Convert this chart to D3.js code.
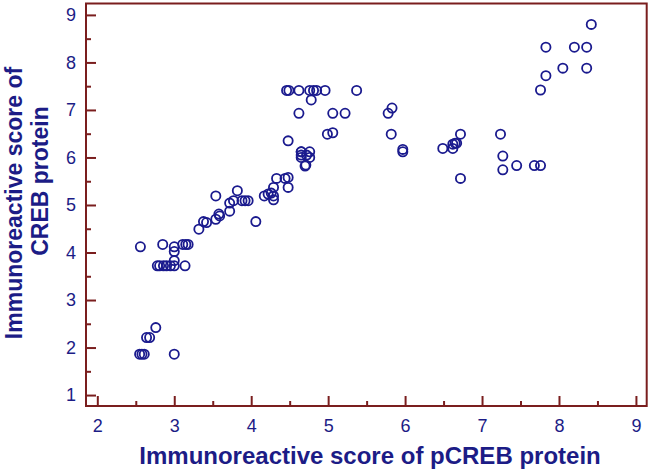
<!DOCTYPE html>
<html lang="en">
<head>
  <meta charset="utf-8" />
  <title>pCREB vs CREB</title>
  <script src="https://d3js.org/d3.v7.min.js"></script>
  <style>
    body { margin: 0; background: #fff; }
    svg text { font-family: "Liberation Sans", Arial, sans-serif; }
  </style>
</head>
<body>
  <div id="graph"></div>
  <script>
    // immunoreactive scores
    const pcreb = [
      2.56, 2.85, 3.0, 3.0, 3.11, 3.15, 3.18, 3.0,
      2.78, 2.81, 2.86, 2.9, 2.95, 3.0, 3.14,
      2.76, 2.64, 2.68, 2.55, 2.58, 2.61, 3.0,
      3.32, 3.38, 3.42, 3.54, 3.58, 3.59, 3.54,
      3.72, 3.72, 3.77, 3.82, 3.88, 3.92, 3.96, 4.06,
      4.17, 4.22, 4.26, 4.29, 4.29, 4.29,
      4.33, 4.44, 4.48, 4.48, 4.65, 4.72, 4.65, 4.71,
      4.46, 4.49, 4.62, 4.76, 4.81, 4.85, 4.96, 4.78, 5.37,
      4.62, 5.06, 5.22, 4.99, 5.06, 4.48,
      4.65, 4.76, 4.65, 4.76, 4.7,
      5.78, 5.83, 5.82, 5.97, 5.97,
      6.49, 6.62, 6.65, 6.67, 6.72, 6.62, 6.72,
      7.24, 7.27, 7.27, 7.45, 7.68, 7.76,
      8.42, 7.83, 8.2, 8.36, 8.05, 8.36, 7.83, 7.76
    ];
    const creb = [
      4.12, 4.17, 4.12, 4.02, 4.17, 4.17, 4.17, 3.83,
      3.72, 3.72, 3.72, 3.72, 3.72, 3.72, 3.72,
      2.42, 2.21, 2.21, 1.86, 1.86, 1.86, 1.86,
      4.49, 4.65, 4.63, 4.7, 4.81, 4.77, 5.19,
      4.87, 5.04, 5.09, 5.3, 5.09, 5.09, 5.09, 4.65,
      5.19, 5.23, 5.25, 5.37, 5.11, 5.19,
      5.56, 5.56, 5.58, 5.37, 6.05, 6.05, 6.12, 5.84,
      7.41, 7.41, 7.41, 7.41, 7.41, 7.41, 7.41, 7.21, 7.41,
      6.93, 6.93, 6.93, 6.49, 6.52, 6.35,
      6.12, 6.12, 6.0, 6.0, 5.82,
      6.93, 7.04, 6.49, 6.17, 6.12,
      6.19, 6.19, 6.3, 6.3, 6.49, 6.28, 5.56,
      6.49, 6.03, 5.74, 5.83, 5.83, 5.83,
      8.8, 8.32, 8.32, 8.32, 7.88, 7.88, 7.72, 7.42
    ];
    const xTicks = [2, 3, 4, 5, 6, 7, 8, 9];
    const yTicks = [1, 2, 3, 4, 5, 6, 7, 8, 9];
    const xMinor = [2.5, 3.5, 4.5, 5.5, 6.5, 7.5, 8.5];
    const yMinor = [1.5, 2.5, 3.5, 4.5, 5.5, 6.5, 7.5, 8.5];
    const xTitle = "Immunoreactive score of pCREB protein";
    const yTitle = ["Immunoreactive score of", "CREB protein"];

    const frameColor = "#7a1e1e";
    const textColor = "#1c1c86";

    const W = 652, H = 470;
    const margin = { top: 3.5, right: 5.3, bottom: 64, left: 86 };
    const width = W - margin.left - margin.right;
    const height = H - margin.top - margin.bottom;

    const x = d3.scaleLinear().domain([1.853, 9.14]).range([0, width]);
    const y = d3.scaleLinear().domain([0.77, 9.24]).range([height, 0]);

    const svg = d3.select("#graph").append("svg")
      .attr("width", W)
      .attr("height", H);
    const g = svg.append("g")
      .attr("transform", `translate(${margin.left}, ${margin.top})`);

    // ticks point inward, labels outside
    function styleAxis(sel) {
      sel.select(".domain").remove();
      sel.selectAll("line").attr("stroke", frameColor).attr("stroke-width", 2);
      sel.selectAll("text")
        .attr("fill", textColor)
        .style("font-size", "18px");
    }

    g.append("g")
      .attr("transform", `translate(0, ${height})`)
      .call(d3.axisBottom(x).tickValues(xTicks).tickFormat(d3.format("d"))
        .tickSizeInner(-10).tickSizeOuter(0).tickPadding(13))
      .call(styleAxis);
    g.append("g")
      .attr("transform", `translate(0, ${height})`)
      .call(d3.axisBottom(x).tickValues(xMinor).tickFormat("")
        .tickSizeInner(-5).tickSizeOuter(0))
      .call(styleAxis);

    g.append("g")
      .call(d3.axisLeft(y).tickValues(yTicks).tickFormat(d3.format("d"))
        .tickSizeInner(-10).tickSizeOuter(0).tickPadding(10))
      .call(styleAxis);
    g.append("g")
      .call(d3.axisLeft(y).tickValues(yMinor).tickFormat("")
        .tickSizeInner(-5).tickSizeOuter(0))
      .call(styleAxis);

    // frame
    g.append("rect")
      .attr("width", width)
      .attr("height", height)
      .attr("fill", "none")
      .attr("stroke", frameColor)
      .attr("stroke-width", 2);

    // points
    g.append("g")
      .selectAll("circle")
      .data(pcreb.map((v, i) => [v, creb[i]]))
      .join("circle")
      .attr("cx", d => x(d[0]))
      .attr("cy", d => y(d[1]))
      .attr("r", 4.6)
      .attr("fill", "none")
      .attr("stroke", "#1a1a8e")
      .attr("stroke-width", 1.8);

    // axis titles
    svg.append("text")
      .attr("x", 370)
      .attr("y", 464)
      .attr("text-anchor", "middle")
      .attr("fill", textColor)
      .style("font-size", "24px")
      .style("font-weight", "bold")
      .text(xTitle);

    svg.append("text")
      .attr("transform", "translate(22, 203) rotate(-90)")
      .attr("text-anchor", "middle")
      .attr("fill", textColor)
      .style("font-size", "23px")
      .style("font-weight", "bold")
      .text(yTitle[0]);
    svg.append("text")
      .attr("transform", "translate(48, 181) rotate(-90)")
      .attr("text-anchor", "middle")
      .attr("fill", textColor)
      .style("font-size", "23px")
      .style("font-weight", "bold")
      .text(yTitle[1]);
  </script>
</body>
</html>
